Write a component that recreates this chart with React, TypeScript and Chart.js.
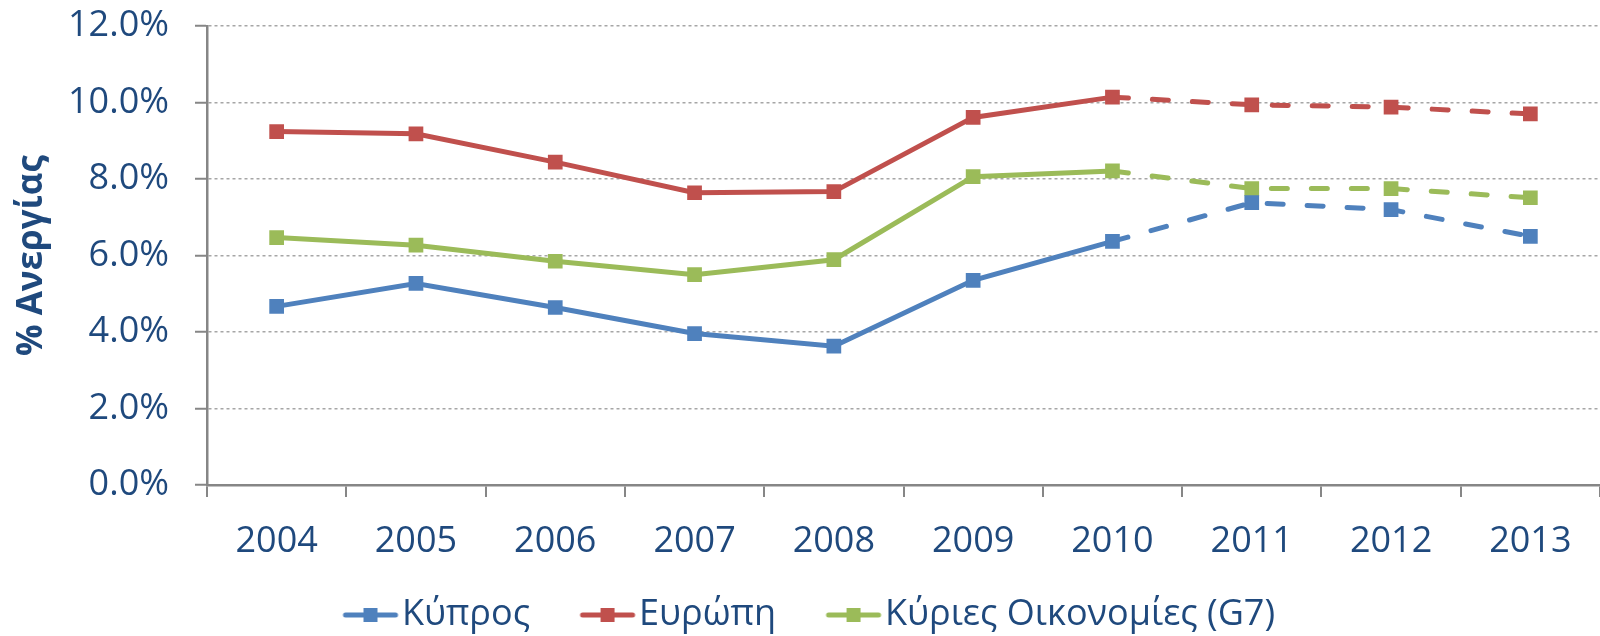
import React, { useEffect, useRef } from "react";
import { Chart, registerables } from "chart.js";

Chart.register(...registerables);

const years = ["2004", "2005", "2006", "2007", "2008", "2009", "2010", "2011", "2012", "2013"];
const cyprus = [4.67, 5.27, 4.64, 3.96, 3.63, 5.35, 6.37, 7.38, 7.2, 6.5];
const europe = [9.24, 9.18, 8.44, 7.64, 7.67, 9.61, 10.14, 9.94, 9.88, 9.7];
const g7 = [6.47, 6.27, 5.85, 5.5, 5.89, 8.06, 8.21, 7.75, 7.75, 7.51];
const seriesNames = ["Κύπρος", "Ευρώπη", "Κύριες Οικονομίες (G7)"];
const seriesColors = ["#4F81BD", "#C0504D", "#9BBB59"];
const forecastFrom = 6; // segments starting at 2010 are dashed
const yTitle = "% Ανεργίας";

const TEXT = "#1F497D";
const FONT = "'Open Sans', 'Noto Sans', sans-serif";
const LEGEND_SIZE = 36;

function legendMarker(color: string): HTMLCanvasElement {
  // box width 59, text starts at boxWidth + fontSize/2
  const c = document.createElement("canvas");
  c.width = 98;
  c.height = 16;
  const g = c.getContext("2d")!;
  // image is centred at box centre (29.5) -> image left = x - 19.5
  // visible line should run from x+18 to x+73
  g.strokeStyle = color;
  g.lineWidth = 5;
  g.lineCap = "round";
  g.beginPath();
  g.moveTo(40, 8);
  g.lineTo(90, 8);
  g.stroke();
  g.fillStyle = color;
  g.fillRect(58, 1, 14, 14);
  return c;
}

export default function App() {
  const ref = useRef<HTMLCanvasElement | null>(null);

  useEffect(() => {
    if (!ref.current) return;
    const dashed = (ctx: any) => (ctx.p0DataIndex >= forecastFrom ? [16, 24] : undefined);
    const cap = (ctx: any) => (ctx.p0DataIndex >= forecastFrom ? "round" : "butt");
    const mk = (i: number, data: number[]) => ({
      label: seriesNames[i],
      data,
      borderColor: seriesColors[i],
      backgroundColor: seriesColors[i],
      borderWidth: 5,
      pointStyle: "rect" as const,
      pointRadius: 10.4,
      pointBorderWidth: 0,
      pointBackgroundColor: seriesColors[i],
      tension: 0,
      segment: { borderDash: dashed, borderCapStyle: cap },
    });
    const markers = seriesColors.map(legendMarker);

    const chart = new Chart(ref.current, {
      type: "line",
      data: {
        labels: years,
        datasets: [mk(0, cyprus), mk(1, europe), mk(2, g7)],
      },
      options: {
        responsive: false,
        animation: false,
        layout: { autoPadding: false, padding: { top: 26, right: 0, left: 0, bottom: 0 } },
        plugins: {
          tooltip: { enabled: false },
          legend: {
            position: "bottom",
            maxHeight: 71,
            labels: {
              usePointStyle: true,
              pointStyleWidth: 59,
              boxHeight: 16,
              padding: 32,
              color: TEXT,
              font: { family: FONT, size: LEGEND_SIZE },
              generateLabels: (ch: any) => {
                const items = Chart.defaults.plugins.legend.labels.generateLabels(ch);
                return items.map((it: any, i: number) => ({ ...it, pointStyle: markers[i], lineWidth: 0 }));
              },
            },
          },
        },
        scales: {
          x: {
            offset: true,
            afterFit: (s: any) => {
              s.height = 80;
              s.paddingLeft = 0;
              s.paddingRight = 0;
            },
            grid: {
              offset: true,
              drawOnChartArea: false,
              drawTicks: true,
              tickLength: 12,
              color: "#868686",
              tickColor: "#868686",
              tickWidth: 2,
              lineWidth: 2,
            },
            border: { display: true, color: "#868686", width: 2.5 },
            ticks: {
              color: TEXT,
              font: { family: FONT, size: 36 },
              padding: 23,
              maxRotation: 0,
              autoSkip: false,
            },
          },
          y: {
            min: 0,
            max: 12,
            afterFit: (s: any) => {
              s.width = 207;
              s.paddingTop = 0;
              s.paddingBottom = 0;
            },
            grid: {
              color: "#A6A6A6",
              lineWidth: 1.5,
              tickColor: "#868686",
              tickWidth: 2,
              tickLength: 12,
              tickBorderDash: [],
            },
            border: { display: true, color: "#868686", width: 2.5, dash: [3, 3] },
            ticks: {
              stepSize: 2,
              color: TEXT,
              font: { family: FONT, size: 36 },
              padding: 26,
              callback: (v: any) => Number(v).toFixed(1) + "%",
            },
            title: {
              display: true,
              text: yTitle,
              color: TEXT,
              font: { family: FONT, size: 35, weight: "bold" },
              padding: { top: 11, bottom: 0 },
            },
          },
        },
      },
    });
    return () => chart.destroy();
  }, []);

  return (
    <div style={{ position: "absolute", left: 0, top: 0, width: 1600, height: 636, background: "#fff" }}>
      <canvas ref={ref} width={1600} height={636} style={{ display: "block", width: 1600, height: 636 }} />
    </div>
  );
}
